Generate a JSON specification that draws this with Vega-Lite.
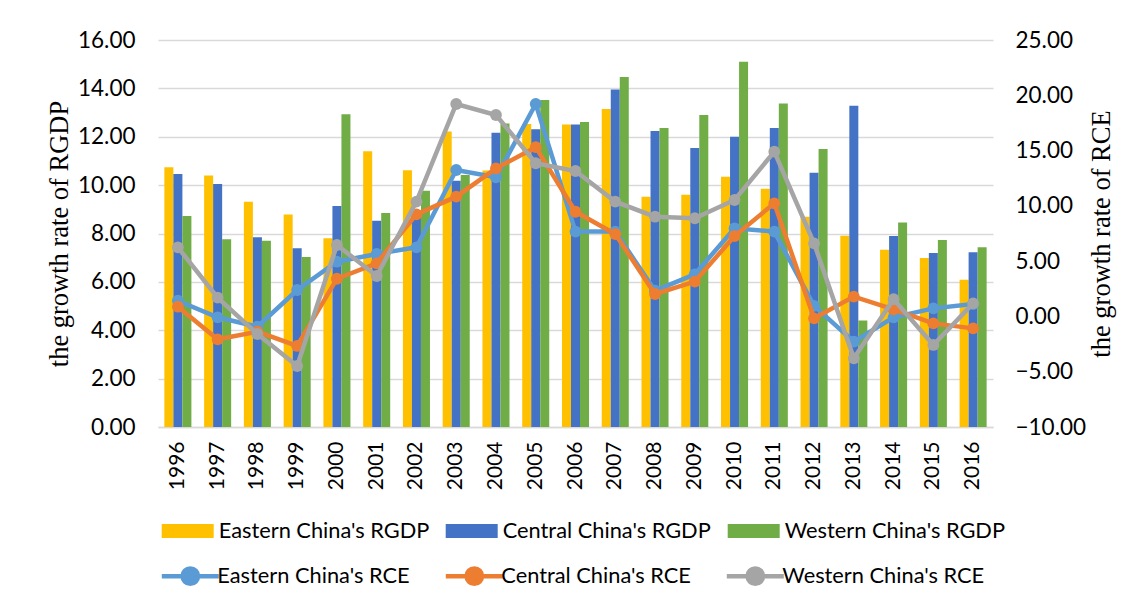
{
 "$schema": "https://vega.github.io/schema/vega-lite/v6.json",
 "width": 835,
 "height": 387,
 "autosize": {"type": "none"},
 "padding": {"left": 158, "top": 40, "right": 142, "bottom": 174},
 "background": "white",
 "config": {"view": {"stroke": null}, "font": "Lato"},
 "datasets": {
  "rgdp": [
   {"year": "1996", "region": "Eastern China's RGDP", "value": 10.74},
   {"year": "1996", "region": "Central China's RGDP", "value": 10.46},
   {"year": "1996", "region": "Western China's RGDP", "value": 8.72},
   {"year": "1997", "region": "Eastern China's RGDP", "value": 10.40},
   {"year": "1997", "region": "Central China's RGDP", "value": 10.05},
   {"year": "1997", "region": "Western China's RGDP", "value": 7.76},
   {"year": "1998", "region": "Eastern China's RGDP", "value": 9.31},
   {"year": "1998", "region": "Central China's RGDP", "value": 7.84},
   {"year": "1998", "region": "Western China's RGDP", "value": 7.70},
   {"year": "1999", "region": "Eastern China's RGDP", "value": 8.79},
   {"year": "1999", "region": "Central China's RGDP", "value": 7.39},
   {"year": "1999", "region": "Western China's RGDP", "value": 7.03},
   {"year": "2000", "region": "Eastern China's RGDP", "value": 7.80},
   {"year": "2000", "region": "Central China's RGDP", "value": 9.14},
   {"year": "2000", "region": "Western China's RGDP", "value": 12.93},
   {"year": "2001", "region": "Eastern China's RGDP", "value": 11.40},
   {"year": "2001", "region": "Central China's RGDP", "value": 8.53},
   {"year": "2001", "region": "Western China's RGDP", "value": 8.85},
   {"year": "2002", "region": "Eastern China's RGDP", "value": 10.62},
   {"year": "2002", "region": "Central China's RGDP", "value": 8.90},
   {"year": "2002", "region": "Western China's RGDP", "value": 9.77},
   {"year": "2003", "region": "Eastern China's RGDP", "value": 12.22},
   {"year": "2003", "region": "Central China's RGDP", "value": 10.18},
   {"year": "2003", "region": "Western China's RGDP", "value": 10.42},
   {"year": "2004", "region": "Eastern China's RGDP", "value": 10.60},
   {"year": "2004", "region": "Central China's RGDP", "value": 12.17},
   {"year": "2004", "region": "Western China's RGDP", "value": 12.55},
   {"year": "2005", "region": "Eastern China's RGDP", "value": 12.53},
   {"year": "2005", "region": "Central China's RGDP", "value": 12.31},
   {"year": "2005", "region": "Western China's RGDP", "value": 13.52},
   {"year": "2006", "region": "Eastern China's RGDP", "value": 12.51},
   {"year": "2006", "region": "Central China's RGDP", "value": 12.51},
   {"year": "2006", "region": "Western China's RGDP", "value": 12.61},
   {"year": "2007", "region": "Eastern China's RGDP", "value": 13.15},
   {"year": "2007", "region": "Central China's RGDP", "value": 13.95},
   {"year": "2007", "region": "Western China's RGDP", "value": 14.47},
   {"year": "2008", "region": "Eastern China's RGDP", "value": 9.52},
   {"year": "2008", "region": "Central China's RGDP", "value": 12.24},
   {"year": "2008", "region": "Western China's RGDP", "value": 12.36},
   {"year": "2009", "region": "Eastern China's RGDP", "value": 9.60},
   {"year": "2009", "region": "Central China's RGDP", "value": 11.53},
   {"year": "2009", "region": "Western China's RGDP", "value": 12.90},
   {"year": "2010", "region": "Eastern China's RGDP", "value": 10.35},
   {"year": "2010", "region": "Central China's RGDP", "value": 12.00},
   {"year": "2010", "region": "Western China's RGDP", "value": 15.10},
   {"year": "2011", "region": "Eastern China's RGDP", "value": 9.85},
   {"year": "2011", "region": "Central China's RGDP", "value": 12.36},
   {"year": "2011", "region": "Western China's RGDP", "value": 13.37},
   {"year": "2012", "region": "Eastern China's RGDP", "value": 8.69},
   {"year": "2012", "region": "Central China's RGDP", "value": 10.51},
   {"year": "2012", "region": "Western China's RGDP", "value": 11.49},
   {"year": "2013", "region": "Eastern China's RGDP", "value": 7.91},
   {"year": "2013", "region": "Central China's RGDP", "value": 13.28},
   {"year": "2013", "region": "Western China's RGDP", "value": 4.40},
   {"year": "2014", "region": "Eastern China's RGDP", "value": 7.33},
   {"year": "2014", "region": "Central China's RGDP", "value": 7.90},
   {"year": "2014", "region": "Western China's RGDP", "value": 8.45},
   {"year": "2015", "region": "Eastern China's RGDP", "value": 6.99},
   {"year": "2015", "region": "Central China's RGDP", "value": 7.19},
   {"year": "2015", "region": "Western China's RGDP", "value": 7.73},
   {"year": "2016", "region": "Eastern China's RGDP", "value": 6.09},
   {"year": "2016", "region": "Central China's RGDP", "value": 7.22},
   {"year": "2016", "region": "Western China's RGDP", "value": 7.43}
  ],
  "rce": [
   {"year": "1996", "region": "Eastern China's RCE", "value": 1.42},
   {"year": "1996", "region": "Central China's RCE", "value": 0.88},
   {"year": "1996", "region": "Western China's RCE", "value": 6.25},
   {"year": "1997", "region": "Eastern China's RCE", "value": -0.08},
   {"year": "1997", "region": "Central China's RCE", "value": -2.07},
   {"year": "1997", "region": "Western China's RCE", "value": 1.70},
   {"year": "1998", "region": "Eastern China's RCE", "value": -0.93},
   {"year": "1998", "region": "Central China's RCE", "value": -1.38},
   {"year": "1998", "region": "Western China's RCE", "value": -1.59},
   {"year": "1999", "region": "Eastern China's RCE", "value": 2.39},
   {"year": "1999", "region": "Central China's RCE", "value": -2.67},
   {"year": "1999", "region": "Western China's RCE", "value": -4.48},
   {"year": "2000", "region": "Eastern China's RCE", "value": 4.95},
   {"year": "2000", "region": "Central China's RCE", "value": 3.41},
   {"year": "2000", "region": "Western China's RCE", "value": 6.46},
   {"year": "2001", "region": "Eastern China's RCE", "value": 5.65},
   {"year": "2001", "region": "Central China's RCE", "value": 4.80},
   {"year": "2001", "region": "Western China's RCE", "value": 3.66},
   {"year": "2002", "region": "Eastern China's RCE", "value": 6.25},
   {"year": "2002", "region": "Central China's RCE", "value": 9.23},
   {"year": "2002", "region": "Western China's RCE", "value": 10.38},
   {"year": "2003", "region": "Eastern China's RCE", "value": 13.24},
   {"year": "2003", "region": "Central China's RCE", "value": 10.83},
   {"year": "2003", "region": "Western China's RCE", "value": 19.21},
   {"year": "2004", "region": "Eastern China's RCE", "value": 12.58},
   {"year": "2004", "region": "Central China's RCE", "value": 13.39},
   {"year": "2004", "region": "Western China's RCE", "value": 18.22},
   {"year": "2005", "region": "Eastern China's RCE", "value": 19.21},
   {"year": "2005", "region": "Central China's RCE", "value": 15.31},
   {"year": "2005", "region": "Western China's RCE", "value": 13.85},
   {"year": "2006", "region": "Eastern China's RCE", "value": 7.67},
   {"year": "2006", "region": "Central China's RCE", "value": 9.47},
   {"year": "2006", "region": "Western China's RCE", "value": 13.15},
   {"year": "2007", "region": "Eastern China's RCE", "value": 7.67},
   {"year": "2007", "region": "Central China's RCE", "value": 7.45},
   {"year": "2007", "region": "Western China's RCE", "value": 10.38},
   {"year": "2008", "region": "Eastern China's RCE", "value": 2.33},
   {"year": "2008", "region": "Central China's RCE", "value": 2.03},
   {"year": "2008", "region": "Western China's RCE", "value": 9.02},
   {"year": "2009", "region": "Eastern China's RCE", "value": 3.81},
   {"year": "2009", "region": "Central China's RCE", "value": 3.15},
   {"year": "2009", "region": "Western China's RCE", "value": 8.88},
   {"year": "2010", "region": "Eastern China's RCE", "value": 7.97},
   {"year": "2010", "region": "Central China's RCE", "value": 7.27},
   {"year": "2010", "region": "Western China's RCE", "value": 10.53},
   {"year": "2011", "region": "Eastern China's RCE", "value": 7.67},
   {"year": "2011", "region": "Central China's RCE", "value": 10.23},
   {"year": "2011", "region": "Western China's RCE", "value": 14.90},
   {"year": "2012", "region": "Eastern China's RCE", "value": 0.95},
   {"year": "2012", "region": "Central China's RCE", "value": -0.17},
   {"year": "2012", "region": "Western China's RCE", "value": 6.61},
   {"year": "2013", "region": "Eastern China's RCE", "value": -2.28},
   {"year": "2013", "region": "Central China's RCE", "value": 1.79},
   {"year": "2013", "region": "Western China's RCE", "value": -3.79},
   {"year": "2014", "region": "Eastern China's RCE", "value": -0.08},
   {"year": "2014", "region": "Central China's RCE", "value": 0.64},
   {"year": "2014", "region": "Western China's RCE", "value": 1.55},
   {"year": "2015", "region": "Eastern China's RCE", "value": 0.73},
   {"year": "2015", "region": "Central China's RCE", "value": -0.63},
   {"year": "2015", "region": "Western China's RCE", "value": -2.58},
   {"year": "2016", "region": "Eastern China's RCE", "value": 1.12},
   {"year": "2016", "region": "Central China's RCE", "value": -1.08},
   {"year": "2016", "region": "Western China's RCE", "value": 1.18}
  ]
 },
 "layer": [
  {
   "data": {"name": "rgdp"},
   "mark": {"type": "bar", "opacity": 1},
   "encoding": {
    "x": {
     "field": "year", "type": "ordinal",
     "scale": {"paddingInner": 0.32, "paddingOuter": 0.16},
     "axis": {"title": null, "labelAngle": 270, "labelFont": "Lato", "labelFontSize": 21, "labelColor": "#000000", "labelPadding": 14, "ticks": false, "tickSize": 0, "domainColor": "#d9d9d9", "domainWidth": 1.5, "grid": false}
    },
    "xOffset": {"field": "region", "type": "nominal", "sort": ["Eastern China's RGDP", "Central China's RGDP", "Western China's RGDP"], "scale": {"paddingInner": 0, "paddingOuter": 0}},
    "y": {
     "field": "value", "type": "quantitative",
     "scale": {"domain": [0, 16], "nice": false, "zero": true},
     "axis": {"orient": "left", "title": "the growth rate of RGDP", "values": [0, 2, 4, 6, 8, 10, 12, 14, 16], "format": ".2f", "grid": true, "gridColor": "#d9d9d9", "gridWidth": 1.5, "domain": false, "ticks": false, "tickSize": 0, "labelFont": "Lato", "labelFontSize": 22.5, "labelColor": "#000000", "labelPadding": 23, "titleFont": "Liberation Serif", "titleFontSize": 26.5, "titleFontWeight": "normal", "titleColor": "#000000", "titleAngle": 270, "titleX": -99, "titleY": 193.5, "titleAlign": "center", "titleBaseline": "middle"}
    },
    "fill": {
     "field": "region", "type": "nominal",
     "scale": {"domain": ["Eastern China's RGDP", "Central China's RGDP", "Western China's RGDP"], "range": ["#FFC000", "#4472C4", "#70AD47"]},
     "legend": {"orient": "none", "legendX": 3.7, "legendY": 465, "direction": "horizontal", "columns": 3, "columnPadding": 16, "title": null, "symbolType": "M-1,-0.27H1V0.27H-1Z", "symbolSize": 2704, "symbolStrokeWidth": 0, "symbolOpacity": 1, "labelFont": "Lato", "labelFontSize": 21.8, "labelColor": "#000000", "labelOffset": 5, "labelLimit": 400, "padding": 0}
    }
   }
  },
  {
   "data": {"name": "rce"},
   "encoding": {
    "x": {"field": "year", "type": "ordinal"},
    "y": {
     "field": "value", "type": "quantitative",
     "scale": {"domain": [-10, 25], "nice": false, "zero": false},
     "axis": {"orient": "right", "title": "the growth rate of  RCE", "values": [-10, -5, 0, 5, 10, 15, 20, 25], "format": ".2f", "grid": false, "domain": false, "ticks": false, "tickSize": 0, "labelFont": "Lato", "labelFontSize": 22.5, "labelColor": "#000000", "labelPadding": 22, "titleFont": "Liberation Serif", "titleFontSize": 26.5, "titleFontWeight": "normal", "titleColor": "#000000", "titleAngle": 270, "titleX": 108, "titleY": 193.5, "titleAlign": "center", "titleBaseline": "middle"}
    },
    "color": {
     "field": "region", "type": "nominal",
     "scale": {"domain": ["Eastern China's RCE", "Central China's RCE", "Western China's RCE"], "range": ["#5B9BD5", "#ED7D31", "#A5A5A5"]},
     "legend": {"orient": "none", "legendX": 1.3, "legendY": 505, "direction": "horizontal", "columns": 3, "columnPadding": 26, "title": null, "symbolType": "M-1,0H1M-0.27,0A0.27,0.27 0 1 1 0.27,0A0.27,0.27 0 1 1 -0.27,0Z", "symbolSize": 3249, "symbolStrokeWidth": 4.5, "labelFont": "Lato", "labelFontSize": 21.8, "labelColor": "#000000", "labelOffset": -4, "labelLimit": 400, "padding": 0,
      "encode": {"symbols": {"update": {"fill": {"scale": "color", "field": "value"}, "stroke": {"scale": "color", "field": "value"}, "opacity": {"value": 1}, "fillOpacity": {"value": 1}, "strokeOpacity": {"value": 1}}}}}
    }
   },
   "layer": [
    {"transform": [{"filter": {"field": "region", "equal": "Eastern China's RCE"}}], "mark": {"type": "line", "strokeWidth": 4.5}},
    {"transform": [{"filter": {"field": "region", "equal": "Eastern China's RCE"}}], "mark": {"type": "point", "filled": true, "shape": "circle", "size": 140, "opacity": 1}},
    {"transform": [{"filter": {"field": "region", "equal": "Central China's RCE"}}], "mark": {"type": "line", "strokeWidth": 4.5}},
    {"transform": [{"filter": {"field": "region", "equal": "Central China's RCE"}}], "mark": {"type": "point", "filled": true, "shape": "circle", "size": 140, "opacity": 1}},
    {"transform": [{"filter": {"field": "region", "equal": "Western China's RCE"}}], "mark": {"type": "line", "strokeWidth": 4.5}},
    {"transform": [{"filter": {"field": "region", "equal": "Western China's RCE"}}], "mark": {"type": "point", "filled": true, "shape": "circle", "size": 140, "opacity": 1}}
   ]
  }
 ],
 "resolve": {"scale": {"y": "independent"}}
}
